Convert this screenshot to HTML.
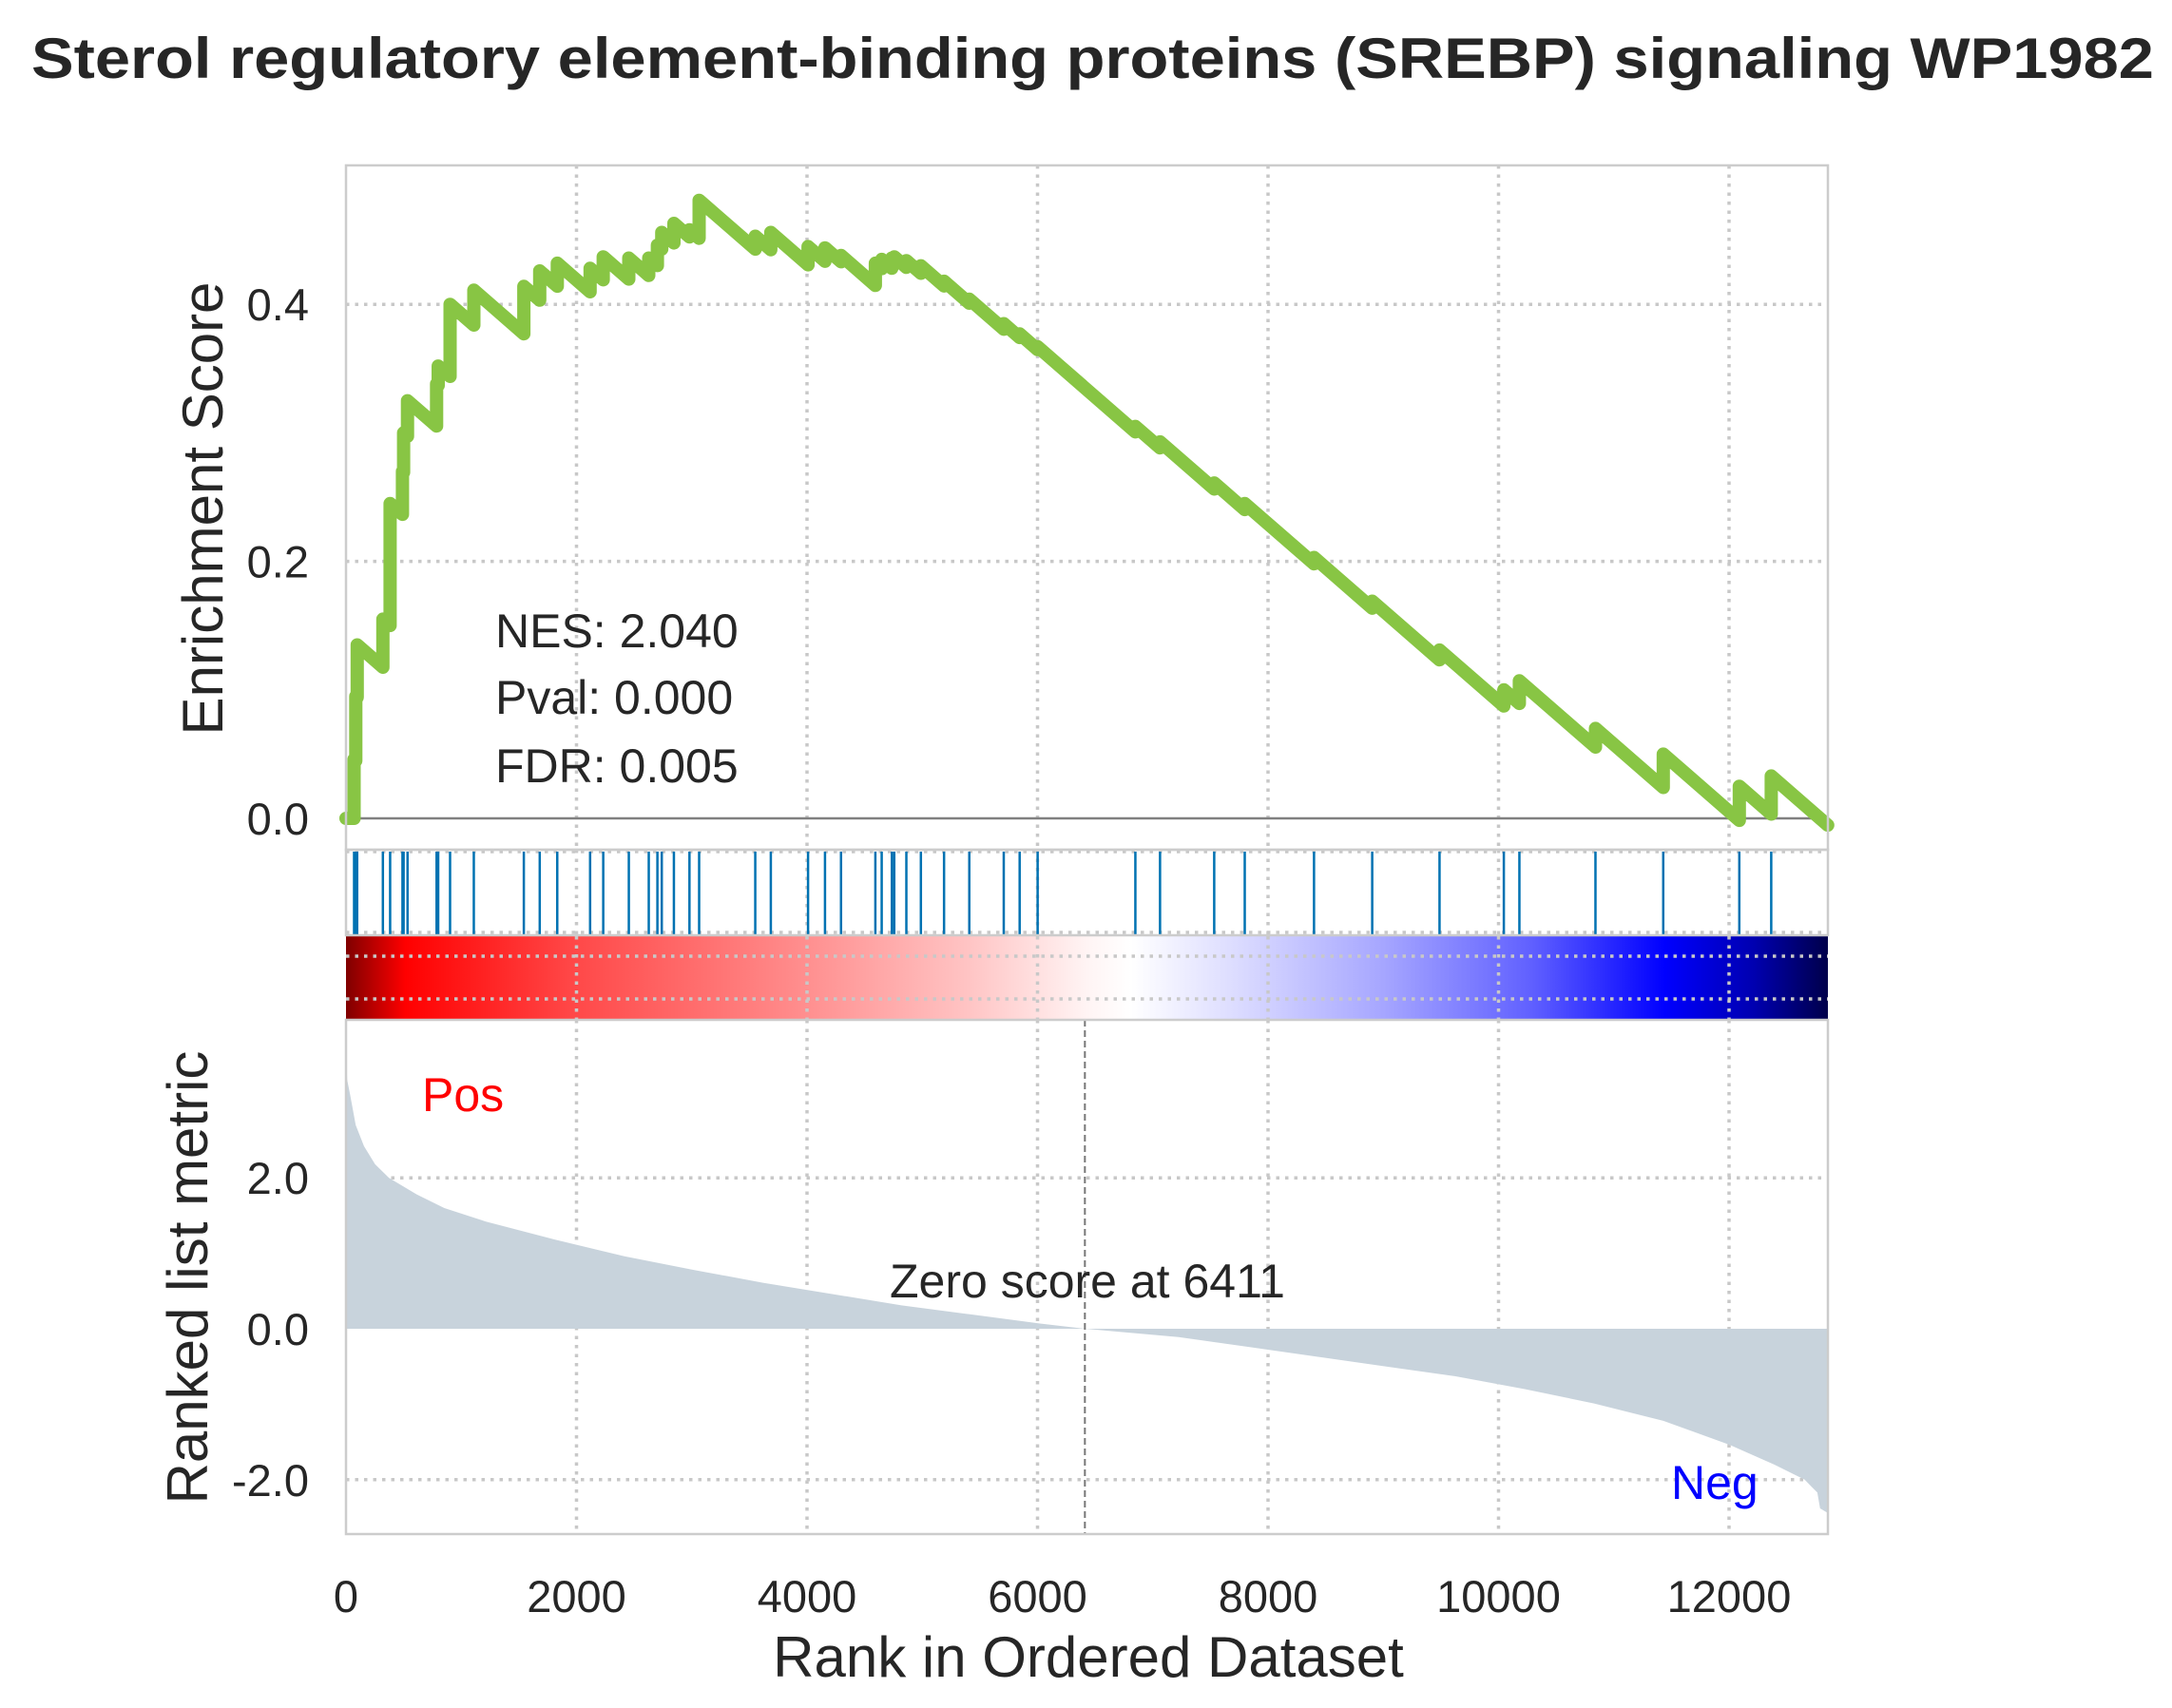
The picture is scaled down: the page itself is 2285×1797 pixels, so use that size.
<!DOCTYPE html>
<html><head><meta charset="utf-8"><style>
html,body{margin:0;padding:0;background:#fff;}
svg{display:block;font-family:"Liberation Sans",Arial,sans-serif;}
</style></head><body>
<svg id="chart" width="2285" height="1797" viewBox="0 0 2285 1797" xmlns="http://www.w3.org/2000/svg">
<defs>
<linearGradient id="cmap" x1="0" x2="1" y1="0" y2="0">
<stop offset="0" stop-color="#7f0000"/><stop offset="0.04" stop-color="#ff0000"/>
<stop offset="0.15" stop-color="#ff4646"/><stop offset="0.30" stop-color="#ff8a8a"/>
<stop offset="0.42" stop-color="#ffc4c4"/><stop offset="0.50" stop-color="#fff4f4"/>
<stop offset="0.53" stop-color="#ffffff"/><stop offset="0.60" stop-color="#dcdcff"/>
<stop offset="0.70" stop-color="#a6a6ff"/><stop offset="0.80" stop-color="#6060ff"/>
<stop offset="0.89" stop-color="#0000ff"/><stop offset="0.95" stop-color="#0000b0"/>
<stop offset="1" stop-color="#00004a"/>
</linearGradient>
</defs>
<text x="33" y="82" font-size="60" font-weight="bold" fill="#262626" textLength="2233" lengthAdjust="spacingAndGlyphs">Sterol regulatory element-binding proteins (SREBP) signaling WP1982</text>
<g id="grid"></g>
<rect x="364" y="985" width="1559" height="88" fill="url(#cmap)"/>
<g id="cbgrid"></g>
<g id="marks"></g>
<g id="frames" fill="none" stroke="#cccccc" stroke-width="2.5">
<rect x="364" y="174" width="1559" height="720"/>
<rect x="364" y="894" width="1559" height="90"/>
<rect x="364" y="1073" width="1559" height="541"/>
</g>
<g id="labels" fill="#262626"></g>
<text x="521" y="681" font-size="50" fill="#262626">NES: 2.040</text>
<text x="521" y="751" font-size="50" fill="#262626">Pval: 0.000</text>
<text x="521" y="823" font-size="50" fill="#262626">FDR: 0.005</text>
<text x="444" y="1169" font-size="50" fill="#ff0000">Pos</text>
<text x="1758" y="1577" font-size="50" fill="#0000ff">Neg</text>
<text x="936" y="1365" font-size="50" fill="#262626">Zero score at 6411</text>
<text transform="translate(234,535) rotate(-90)" text-anchor="middle" font-size="60" fill="#262626">Enrichment Score</text>
<text transform="translate(218,1344) rotate(-90)" text-anchor="middle" font-size="60" fill="#262626">Ranked list metric</text>
<text x="1145" y="1764" text-anchor="middle" font-size="60" fill="#262626">Rank in Ordered Dataset</text>
</svg>
<script>
const N = 12856;
const zeroRank = 6411;
const xTicks = [0,2000,4000,6000,8000,10000,12000];
const esTicks = [0.0,0.2,0.4];
const esTickLabels = ["0.0","0.2","0.4"];
const rankTicks = [2.0,0.0,-2.0];
const rankTickLabels = ["2.0","0.0","-2.0"];
const hitRanks = [70,85,97,320,383,490,500,534,786,800,903,1109,1543,1681,1833,2118,2232,2454,2627,2702,2740,2845,2980,3064,3551,3686,4009,4156,4295,4593,4648,4736,4757,4862,4988,5189,5408,5707,5845,6001,6849,7063,7533,7798,8399,8904,9488,10046,10181,10841,11429,12089,12366];
const esAfterHit = [0.046,0.095,0.135,0.155,0.245,0.27,0.30,0.325,0.338,0.352,0.40,0.411,0.414,0.426,0.432,0.428,0.437,0.436,0.436,0.446,0.456,0.463,0.458,0.481,0.453,0.456,0.445,0.444,0.438,0.432,0.435,0.436,0.437,0.434,0.430,0.418,0.404,0.385,0.377,0.367,0.305,0.293,0.261,0.245,0.203,0.169,0.131,0.100,0.107,0.070,0.050,0.025,0.033];
const metricRanks = [0,10,36,84,156,252,373,613,853,1214,1815,2416,3017,3618,4219,4820,5421,6022,6411,7224,7825,8425,9026,9627,10228,10829,11430,12008,12392,12656,12766,12790,12856];
const metricValues = [3.7,3.3,3.1,2.7,2.42,2.18,2.0,1.78,1.6,1.42,1.18,0.96,0.78,0.61,0.46,0.31,0.19,0.07,0.0,-0.11,-0.24,-0.37,-0.5,-0.63,-0.8,-0.99,-1.22,-1.54,-1.8,-2.0,-2.17,-2.38,-2.44];

const NS="http://www.w3.org/2000/svg";
const xr = r => 364 + r*(1819-364)/12000;
const yES = v => 861 - v*1352;
const yR = v => 1398 - v*79.4;
function mk(tag, attrs, parent){const e=document.createElementNS(NS,tag);for(const k in attrs)e.setAttribute(k,attrs[k]);parent.appendChild(e);return e;}
const grid=document.getElementById('grid'), marks=document.getElementById('marks'), labels=document.getElementById('labels'), cbgrid=document.getElementById('cbgrid');
const gs={stroke:"#c8c8c8","stroke-width":3.5,"stroke-dasharray":"3.5,6",fill:"none"};
xTicks.forEach((t,i)=>{
  if(t===0)return;
  const x=xr(t);
  let g=mk('line',Object.assign({x1:x,x2:x,y1:174,y2:894},gs),grid);
  
  
  g=mk('line',Object.assign({x1:x,x2:x,y1:894,y2:984},gs),grid);
  
  
  g=mk('line',Object.assign({x1:x,x2:x,y1:985,y2:1073},gs),cbgrid);
  
  
  g=mk('line',Object.assign({x1:x,x2:x,y1:1073,y2:1614},gs),grid);
  
  
});
esTicks.forEach((t,i)=>{
  const y=yES(t);
  if(t!==0){const g=mk('line',Object.assign({x1:364,x2:1923,y1:y,y2:y},gs),grid);
  
  }
  const tx=mk('text',{x:325,y:y+17,'text-anchor':'end','font-size':47},labels);
  tx.textContent=esTickLabels[i];
  
  
});
[896,981].forEach(y=>{const g=mk('line',Object.assign({x1:364,x2:1923,y1:y,y2:y},gs),grid);
  
  });
[1006,1051].forEach(y=>{const g=mk('line',Object.assign({x1:364,x2:1923,y1:y,y2:y},gs),cbgrid);
  
  });
rankTicks.forEach((t,i)=>{
  const y=yR(t);
  if(t!==0){const g=mk('line',Object.assign({x1:364,x2:1923,y1:y,y2:y},gs),grid);
  
  }
  const tx=mk('text',{x:325,y:y+17,'text-anchor':'end','font-size':47},labels);
  tx.textContent=rankTickLabels[i];
  
  
});
xTicks.forEach(t=>{
  const tx=mk('text',{x:xr(t),y:1696,'text-anchor':'middle','font-size':47},labels);
  tx.textContent=String(t);
  
  
});
let d=`M${xr(metricRanks[0])},${yR(0)}`;
metricRanks.forEach((r,i)=>{d+=` L${xr(r)},${yR(metricValues[i])}`;});
d+=` L${xr(N)},${yR(0)} Z`;
const area=mk('path',{d:d,fill:"#c8d3dc",stroke:"none"},marks);


const zl=mk('line',{x1:xr(zeroRank),x2:xr(zeroRank),y1:1073,y2:1614,stroke:"#777",'stroke-width':2,'stroke-dasharray':"7,4"},marks);


hitRanks.forEach(r=>{
  const h=mk('line',{x1:xr(r),x2:xr(r),y1:896,y2:983,stroke:"#0072b2",'stroke-width':2.5},marks);
  
  
});
const z=mk('line',{x1:364,x2:1923,y1:yES(0),y2:yES(0),stroke:"#808080",'stroke-width':2.5},marks);


const dec = 1/(N-hitRanks.length);
let pts=[[0,0]], prevR=0, prevV=0;
hitRanks.forEach((r,i)=>{
  const before=Math.max(prevV-dec*(r-prevR), i===0?0:-1);
  pts.push([r,before]); pts.push([r,esAfterHit[i]]);
  prevR=r; prevV=esAfterHit[i];
});
pts.push([N,prevV-dec*(N-prevR)]);
const es=mk('polyline',{points:pts.map(p=>`${xr(p[0]).toFixed(1)},${yES(p[1]).toFixed(1)}`).join(' '),fill:"none",stroke:"#88c544",'stroke-width':14,'stroke-linejoin':"round",'stroke-linecap':"round"},marks);


</script>
</body></html>
